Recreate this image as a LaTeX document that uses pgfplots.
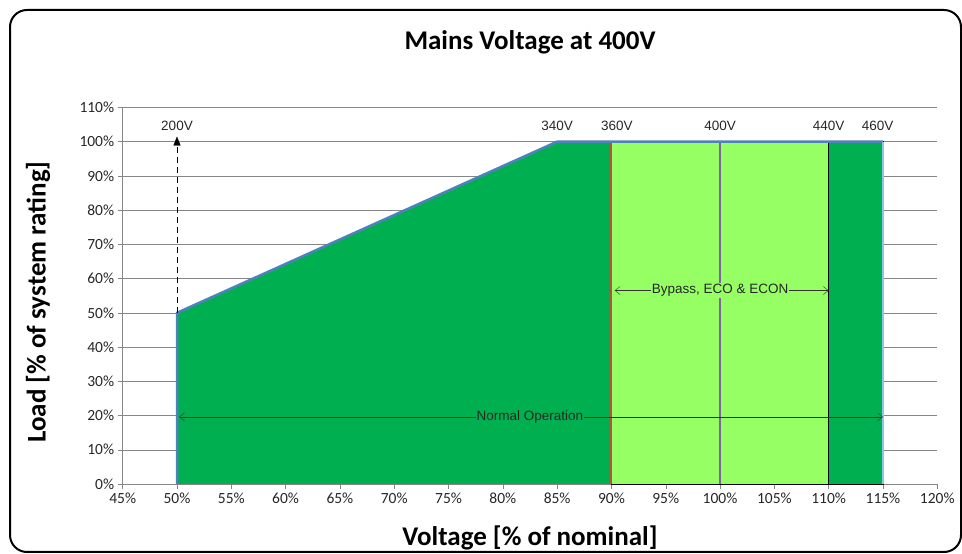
\documentclass[border=0pt]{standalone}
\usepackage{fontspec}
\setmainfont{Carlito}
\newfontfamily\arial{Liberation Sans}
\usepackage{pgfplots}
\pgfplotsset{compat=1.18}
\usetikzlibrary{arrows.meta}

\definecolor{dkgreen}{RGB}{0,176,80}
\definecolor{ltgreen}{RGB}{150,255,100}
\definecolor{edgeblue}{RGB}{79,129,189}
\definecolor{paleblue}{RGB}{146,196,230}
\definecolor{redline}{RGB}{185,80,55}
\definecolor{purpline}{RGB}{128,100,162}
\definecolor{gridgray}{RGB}{134,134,134}

\tikzset{vlabel/.style={font=\arial\fontsize{13.5}{15}\selectfont, text=black!85}}

\begin{document}
\begin{tikzpicture}[x=1pt,y=1pt]
\useasboundingbox (0,0) rectangle (962,554);
\draw[line width=2pt, rounded corners=17pt] (10,2) rectangle (961,544);

\node[font=\bfseries\fontsize{27}{30}\selectfont, anchor=base] at (530,504) {Mains Voltage at 400V};
\node[font=\bfseries\fontsize{27}{30}\selectfont, anchor=base] at (530,8) {Voltage [\% of nominal]};
\node[font=\bfseries\fontsize{27}{30}\selectfont, rotate=90] at (38,252) {Load [\% of system rating]};

\begin{axis}[
    at={(122.7pt,70pt)}, anchor=south west,
    scale only axis,
    width=814.6pt, height=376.6pt,
    xmin=45, xmax=120, ymin=0, ymax=110,
    xtick={45,50,...,120}, ytick={0,10,...,110},
    xticklabel={\pgfmathprintnumber{\tick}\%},
    yticklabel={\pgfmathprintnumber{\tick}\%},
    /pgf/number format/assume math mode=true,
    tick label style={font=\fontsize{15.5}{17}\selectfont, text=black!85},
    axis lines=left,
    axis line style={gridgray, -},
    tick style={gridgray, thin},
    tick align=outside,
    major tick length=5pt,
    ymajorgrids,
    grid style={gridgray, thin},
    clip=false,
]
% areas
\addplot[fill=dkgreen, draw=none] coordinates {(50,0) (50,50) (85,100) (90,100) (90,0)} -- cycle;
\addplot[fill=ltgreen, draw=black, thin] coordinates {(90,0) (90,100) (110,100) (110,0)} -- cycle;
\addplot[fill=dkgreen, draw=black, thin] coordinates {(110,0) (110,100) (115,100) (115,0)} -- cycle;
% boundary lines
\addplot[redline, line width=2pt] coordinates {(90,0) (90,100)};
\addplot[black!80, line width=2.6pt] coordinates {(100,0) (100,100)};
\addplot[purpline, line width=1.2pt] coordinates {(100,0) (100,100)};
\addplot[black, line width=0.8pt] coordinates {(110,0) (110,100)};
\addplot[edgeblue, line width=2.5pt, line join=round] coordinates {(50,0) (50,50) (85,100) (115,100)};
\addplot[paleblue, line width=2pt] coordinates {(115,0) (115,100)};
% arrows
\addplot[black, thin, dash pattern=on 6pt off 4pt, -{Triangle[length=9pt,width=7pt]}] coordinates {(50,50) (50,101.5)};
\addplot[black!80, thin, {Straight Barb[length=5pt,width=8pt]}-{Straight Barb[length=5pt,width=8pt]}] coordinates {(90.3,56.5) (110,56.5)};
\addplot[black!80, thin, {Straight Barb[length=5pt,width=8pt]}-{Straight Barb[length=5pt,width=8pt]}] coordinates {(50.2,19.6) (115,19.6)};
\node[vlabel, fill=ltgreen, inner xsep=1pt, inner ysep=1pt] at (axis cs:100,56.5) {Bypass, ECO \& ECON};
\node[vlabel, fill=dkgreen, inner xsep=1pt, inner ysep=1pt] at (axis cs:82.5,19.6) {Normal Operation};
% voltage labels
\node[vlabel] at (axis cs:50,104.6) {200V};
\node[vlabel] at (axis cs:85,104.6) {340V};
\node[vlabel] at (axis cs:90.5,104.6) {360V};
\node[vlabel] at (axis cs:100,104.6) {400V};
\node[vlabel] at (axis cs:110,104.6) {440V};
\node[vlabel] at (axis cs:114.5,104.6) {460V};
\end{axis}
\end{tikzpicture}
\end{document}
